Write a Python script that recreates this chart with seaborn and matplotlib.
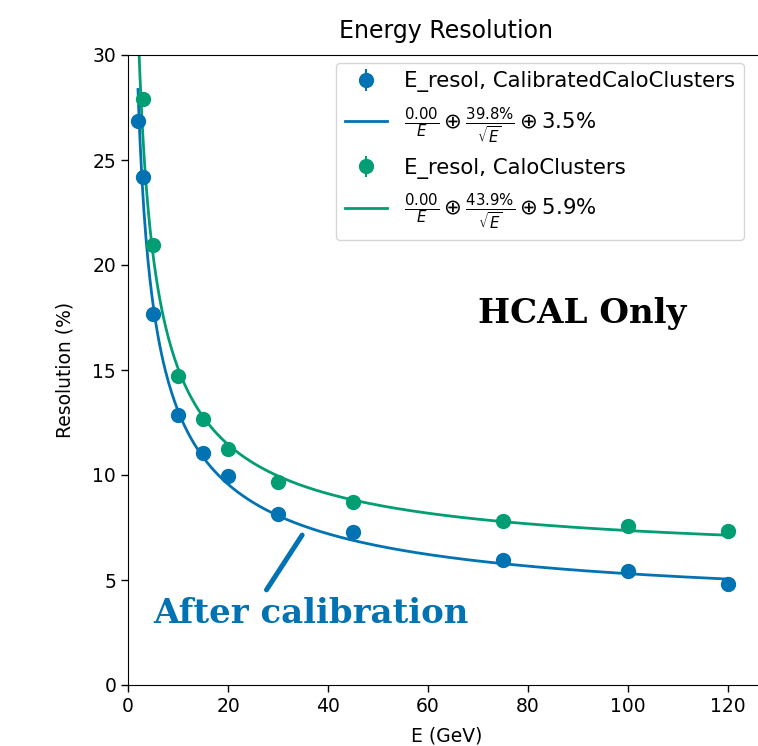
import numpy as np
import pandas as pd
import matplotlib
matplotlib.use("Agg")
import matplotlib.pyplot as plt
import seaborn as sns

# ---- data ----
E_cal = [2, 3, 5, 10, 15, 20, 30, 45, 75, 100, 120]
res_cal = [26.85, 24.2, 17.65, 12.85, 11.05, 9.95, 8.15, 7.3, 5.95, 5.45, 4.8]
err_cal = [0.35, 0.3, 0.25, 0.2, 0.15, 0.15, 0.12, 0.1, 0.1, 0.1, 0.1]

E_raw = [3, 5, 10, 15, 20, 30, 45, 75, 100, 120]
res_raw = [27.9, 20.95, 14.7, 12.65, 11.25, 9.65, 8.7, 7.8, 7.55, 7.35]
err_raw = [0.35, 0.3, 0.2, 0.15, 0.15, 0.12, 0.1, 0.1, 0.1, 0.1]

# fit parameters shown in the legend: a/E (+) b/sqrt(E) (+) c
fit_cal = (0.00, 39.8, 3.5)
fit_raw = (0.00, 43.9, 5.9)

label_cal = "E_resol, CalibratedCaloClusters"
label_raw = "E_resol, CaloClusters"

x_ticks = [0, 20, 40, 60, 80, 100, 120]
y_ticks = [0, 5, 10, 15, 20, 25, 30]

blue = "#0173B2"
green = "#029E73"

plt.rcParams['font.family'] = ['DejaVu Sans']

def resol(E, p):
    a, b, c = p
    E = np.asarray(E, dtype=float)
    return np.sqrt((a / E) ** 2 + (b / np.sqrt(E)) ** 2 + c ** 2)

def fit_label(p):
    a, b, c = p
    return (r"$\frac{%.2f}{E} \oplus \frac{%.1f\%%}{\sqrt{E}} \oplus %.1f\%%$" % (a, b, c))

fig = plt.figure(figsize=(7.58, 7.46), dpi=100)
ax = fig.add_axes([128 / 758, 61 / 746, 0.84, 630 / 746])

E_grid = np.linspace(min(E_cal), max(E_cal), 600)
df_fit = pd.DataFrame({
    "E": np.concatenate([E_grid, E_grid]),
    "res": np.concatenate([resol(E_grid, fit_cal), resol(E_grid, fit_raw)]),
    "set": ["cal"] * len(E_grid) + ["raw"] * len(E_grid),
})

eb1 = ax.errorbar(E_cal, res_cal, yerr=err_cal, fmt="o", color=blue,
                  markersize=10, elinewidth=1.5, capsize=0, zorder=3)
sns.lineplot(data=df_fit[df_fit.set == "cal"], x="E", y="res", color=blue,
             linewidth=2, ax=ax, zorder=2)
eb2 = ax.errorbar(E_raw, res_raw, yerr=err_raw, fmt="o", color=green,
                  markersize=10, elinewidth=1.5, capsize=0, zorder=3)
sns.lineplot(data=df_fit[df_fit.set == "raw"], x="E", y="res", color=green,
             linewidth=2, ax=ax, zorder=2)

lines = [l for l in ax.get_lines() if len(l.get_xdata()) == len(E_grid)]
l_cal, l_raw = lines[0], lines[1]

ax.legend(handles=[eb1, l_cal, eb2, l_raw],
          labels=[label_cal, fit_label(fit_cal), label_raw, fit_label(fit_raw)],
          loc="upper left", bbox_to_anchor=(208 / 636.7, 1 - 8 / 630),
          borderaxespad=0, fontsize=15.3, frameon=True, labelspacing=0.58)

ax.set_xlim(0, 636.7 / 5.0)
ax.set_ylim(0, 30)
ax.set_xticks(x_ticks)
ax.set_yticks(y_ticks)
ax.tick_params(labelsize=13.5, length=5, width=1)
ax.set_xlabel("E (GeV)", fontsize=13.5, labelpad=8)
ax.set_ylabel("Resolution (%)", fontsize=13.5, labelpad=13)
ax.set_title("Energy Resolution", fontsize=17, pad=12)

ax.text(0.713, 0.59, "HCAL Only", transform=ax.transAxes, ha="center",
        va="center", fontsize=24.5, fontweight="bold", family="DejaVu Serif",
        color="black")
ax.text(0.287, 0.113, "After calibration", transform=ax.transAxes, ha="center",
        va="center", fontsize=24.5, fontweight="bold", family="DejaVu Serif",
        color=blue)
ax.annotate("", xy=(0.2735, 0.238), xytext=(0.2175, 0.151),
            xycoords="axes fraction", textcoords="axes fraction",
            arrowprops=dict(arrowstyle="-", color=blue, lw=3.6,
                            capstyle="round", shrinkA=0, shrinkB=0))

fig.savefig("out.png", dpi=100)
